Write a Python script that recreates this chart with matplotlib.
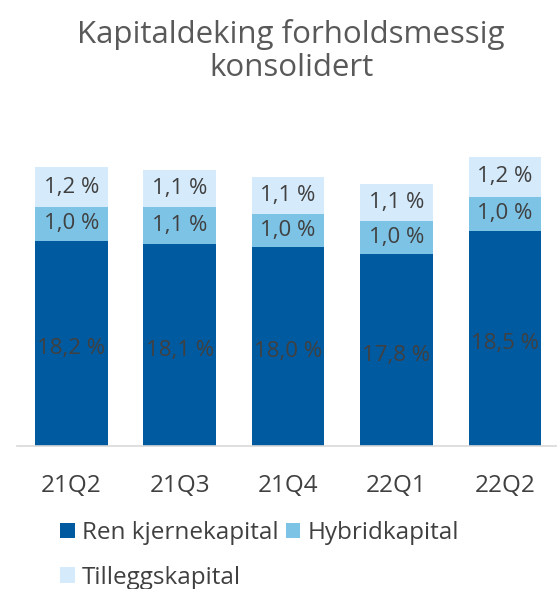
import matplotlib
matplotlib.use("Agg")
import matplotlib.pyplot as plt
from matplotlib.patches import Patch

plt.rcParams['font.family'] = ['Open Sans', 'DejaVu Sans']

categories = ["21Q2", "21Q3", "21Q4", "22Q1", "22Q2"]
ren_kjerne = [18.2, 18.1, 18.0, 17.8, 18.5]
hybrid = [1.0, 1.1, 1.0, 1.0, 1.0]
tillegg = [1.2, 1.1, 1.1, 1.1, 1.2]
series_names = ["Ren kjernekapital", "Hybridkapital", "Tilleggskapital"]
colors = ["#005AA0", "#7DC3E6", "#D5EAFB"]
title = "Kapitaldeking forholdsmessig\nkonsolidert"

W, H = 557, 589
fig = plt.figure(figsize=(W / 100, H / 100), dpi=100)
ax = fig.add_axes([17 / W, (H - 446) / H, (W - 17) / W, 306 / H])

ymin = 12.07
scale = 33.5
x = list(range(len(categories)))
width = 0.67
text_color = "#404040"

ax.bar(x, [v - ymin for v in ren_kjerne], bottom=ymin, width=width, color=colors[0])
bottom2 = ren_kjerne
ax.bar(x, hybrid, bottom=bottom2, width=width, color=colors[1])
bottom3 = [a + b for a, b in zip(ren_kjerne, hybrid)]
ax.bar(x, tillegg, bottom=bottom3, width=width, color=colors[2])

def fmt(v):
    return f"{v:.1f}".replace(".", ",") + " %"

fs = 16
for i in x:
    ax.text(i, (ymin + ren_kjerne[i]) / 2 - 0.15, fmt(ren_kjerne[i]), ha="center", va="center",
            fontsize=fs, color=text_color)
    ax.text(i, bottom2[i] + hybrid[i] / 2, fmt(hybrid[i]), ha="center", va="center",
            fontsize=fs, color=text_color)
    ax.text(i, bottom3[i] + tillegg[i] / 2, fmt(tillegg[i]), ha="center", va="center",
            fontsize=fs, color=text_color)

ax.set_ylim(ymin, ymin + 306 / scale)
ax.set_xlim(-0.5, 4.48)
for s in ["top", "right", "left"]:
    ax.spines[s].set_visible(False)
ax.spines["bottom"].set_color("#D9D9D9")
ax.spines["bottom"].set_linewidth(1.2)
ax.set_yticks([])
ax.set_xticks(x)
ax.set_xticklabels(categories, fontsize=17.5, color=text_color)
ax.tick_params(axis="x", length=0, pad=20)

fig.text(291 / W, 1 - 51 / H, title, ha="center", va="center", fontsize=22.5,
         color="#595959", linespacing=1.15)

order = [0, 2, 1]
handles = [Patch(facecolor=colors[k], edgecolor="none") for k in order]
labels = [series_names[k] for k in order]
fig.legend(handles, labels, loc="upper left", bbox_to_anchor=(60 / W, 1 - 521 / H),
           ncol=2, frameon=False, fontsize=17.5, handlelength=0.6, handleheight=0.6,
           handletextpad=0.3, columnspacing=0.3, labelcolor=text_color,
           borderaxespad=0, borderpad=0, labelspacing=0.85)

fig.savefig("out.png", dpi=100)
